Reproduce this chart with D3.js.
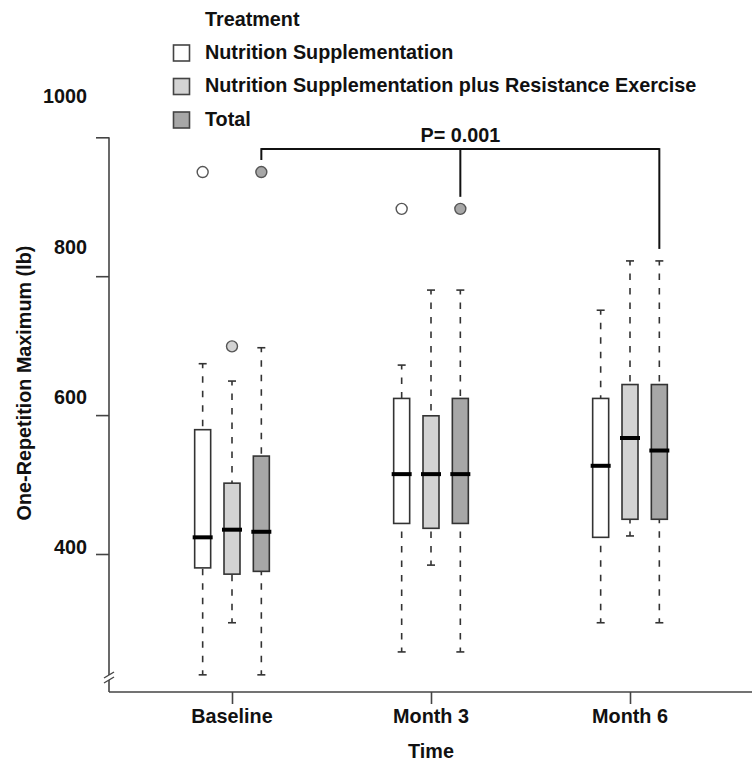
<!DOCTYPE html>
<html>
<head>
<meta charset="utf-8">
<script src="https://cdn.jsdelivr.net/npm/d3@7"></script>
<style>
  html, body { margin: 0; padding: 0; background: #ffffff; }
  svg text { font-family: "Liberation Sans", Arial, Helvetica, sans-serif; font-weight: bold; fill: #111; }
</style>
</head>
<body>
<svg id="chart" width="752" height="762"></svg>
<script>
// ---------- data ----------
const categories = ["Baseline", "Month 3", "Month 6"];
const seriesNames = ["Nutrition Supplementation", "Nutrition Supplementation plus Resistance Exercise", "Total"];
const seriesColors = ["#ffffff", "#d3d3d3", "#a7a7a7"];
// rows = categories, columns = series
const whiskerLow  = [[226, 301, 226], [259, 384, 259], [301, 426, 301]];
const q1          = [[380, 371, 375], [444, 437, 444], [424, 450, 450]];
const medians     = [[424, 435, 432], [515, 515, 515], [527, 567, 549]];
const q3          = [[579, 502, 541], [624, 599, 624], [624, 644, 644]];
const whiskerHigh = [[674, 649, 697], [672, 780, 780], [751, 822, 822]];
const outlierCategory = ["Baseline", "Baseline", "Baseline", "Month 3", "Month 3"];
const outlierSeries   = [0, 1, 2, 0, 2];
const outlierValue    = [950, 699, 950, 897, 897];
const yTicks = [400, 600, 800, 1000];
const yTickLabels = ["400", "600", "800", "1000"];
const sigLevel = 983;
const sigText = "P= 0.001";
const sigCategories = ["Baseline", "Month 3", "Month 6"];
const sigTargets = [950, 897, 822];
const yTitle = "One-Repetition Maximum (lb)";
const xTitle = "Time";
const legendTitle = "Treatment";

// ---------- layout ----------
const svg = d3.select("#chart");
const axisX = 109, axisBottom = 692, rightEdge = 752;
const fs = "19.8px";
const y = d3.scaleLinear().domain([400, 1000]).range([554, 137.3]);
const yLabel = d3.scaleLinear().domain([400, 1000]).range([547, 96.5]);
const x = d3.scalePoint().domain(categories).range([232, 630]);
const xo = d3.scaleBand().domain(d3.range(seriesNames.length)).range([-44, 44]);
const offset = i => xo(i) + xo.bandwidth() / 2;
const boxW = 16;
const axisColor = "#444";

// y axis ticks
const yAxis = d3.axisLeft(y).tickValues(yTicks).tickSize(13).tickFormat("");
const gy = svg.append("g").attr("transform", `translate(${axisX},0)`).call(yAxis);
gy.select(".domain").remove();
gy.selectAll(".tick line").attr("stroke", axisColor).attr("stroke-width", 1.6);

svg.append("line")
  .attr("x1", axisX).attr("x2", axisX)
  .attr("y1", y(1000)).attr("y2", axisBottom)
  .attr("stroke", axisColor).attr("stroke-width", 1.6);

// tick labels
svg.append("g").selectAll("text").data(yTicks).join("text")
  .attr("x", 87).attr("y", d => yLabel(d)).attr("dy", "0.35em")
  .attr("text-anchor", "end").style("font-size", fs)
  .text((d, i) => yTickLabels[i]);

// axis break
svg.append("rect").attr("x", axisX - 3).attr("y", 675).attr("width", 6).attr("height", 5).attr("fill", "#fff");
[[678, 672], [683, 677]].forEach(([a, b]) => {
  svg.append("line").attr("x1", axisX - 5).attr("y1", a).attr("x2", axisX + 5).attr("y2", b)
    .attr("stroke", axisColor).attr("stroke-width", 1.4);
});

// x axis
svg.append("line").attr("x1", axisX).attr("x2", rightEdge).attr("y1", axisBottom).attr("y2", axisBottom)
  .attr("stroke", axisColor).attr("stroke-width", 1.6);
const xAxis = d3.axisBottom(x).tickSize(12).tickFormat("");
const gx = svg.append("g").attr("transform", `translate(0,${axisBottom})`).call(xAxis);
gx.select(".domain").remove();
gx.selectAll(".tick line").attr("stroke", axisColor).attr("stroke-width", 1.6);
svg.append("g").selectAll("text").data(categories).join("text")
  .attr("x", d => x(d)).attr("y", 723).attr("text-anchor", "middle").style("font-size", fs)
  .text(d => d);

// titles
svg.append("text").attr("transform", "translate(31,383) rotate(-90)")
  .attr("text-anchor", "middle").style("font-size", fs).text(yTitle);
svg.append("text").attr("x", x("Month 3")).attr("y", 758)
  .attr("text-anchor", "middle").style("font-size", fs).text(xTitle);

// ---------- boxes ----------
const boxes = [];
categories.forEach((c, ci) => seriesNames.forEach((s, si) => {
  boxes.push({ c, si, lo: whiskerLow[ci][si], q1: q1[ci][si], med: medians[ci][si], q3: q3[ci][si], hi: whiskerHigh[ci][si] });
}));
const gb = svg.append("g");
const bx = d => x(d.c) + offset(d.si);
const dash = "6.5,8";

// whiskers (dashed)
gb.selectAll(".wl").data(boxes).join("line")
  .attr("x1", bx).attr("x2", bx).attr("y1", d => y(d.lo)).attr("y2", d => y(d.q1))
  .attr("stroke", "#333").attr("stroke-width", 1.6).attr("stroke-dasharray", dash).attr("stroke-dashoffset", 2);
gb.selectAll(".wh").data(boxes).join("line")
  .attr("x1", bx).attr("x2", bx).attr("y1", d => y(d.hi)).attr("y2", d => y(d.q3))
  .attr("stroke", "#333").attr("stroke-width", 1.6).attr("stroke-dasharray", dash).attr("stroke-dashoffset", 2);
// caps
gb.selectAll(".cl").data(boxes).join("line")
  .attr("x1", d => bx(d) - 4).attr("x2", d => bx(d) + 4).attr("y1", d => y(d.lo)).attr("y2", d => y(d.lo))
  .attr("stroke", "#333").attr("stroke-width", 1.6);
gb.selectAll(".ch").data(boxes).join("line")
  .attr("x1", d => bx(d) - 4).attr("x2", d => bx(d) + 4).attr("y1", d => y(d.hi)).attr("y2", d => y(d.hi))
  .attr("stroke", "#333").attr("stroke-width", 1.6);
// boxes
gb.selectAll(".bx").data(boxes).join("rect")
  .attr("x", d => bx(d) - boxW / 2).attr("width", boxW)
  .attr("y", d => y(d.q3)).attr("height", d => y(d.q1) - y(d.q3))
  .attr("fill", d => seriesColors[d.si]).attr("stroke", "#333").attr("stroke-width", 1.6);
// medians
gb.selectAll(".md").data(boxes).join("line")
  .attr("x1", d => bx(d) - boxW / 2 - 2).attr("x2", d => bx(d) + boxW / 2 + 2)
  .attr("y1", d => y(d.med)).attr("y2", d => y(d.med))
  .attr("stroke", "#000").attr("stroke-width", 4);

// outliers
svg.append("g").selectAll("circle").data(outlierValue).join("circle")
  .attr("cx", (v, i) => x(outlierCategory[i]) + offset(outlierSeries[i]))
  .attr("cy", v => y(v)).attr("r", 5.5)
  .attr("fill", (v, i) => seriesColors[outlierSeries[i]])
  .attr("stroke", "#555").attr("stroke-width", 1.4);

// significance bracket
const sx = sigCategories.map(c => x(c) + offset(2));
const sy = y(sigLevel);
svg.append("line").attr("x1", sx[0]).attr("x2", sx[2]).attr("y1", sy).attr("y2", sy)
  .attr("stroke", "#111").attr("stroke-width", 2);
sx.forEach((xx, i) => {
  svg.append("line").attr("x1", xx).attr("x2", xx).attr("y1", sy - 1).attr("y2", y(sigTargets[i]) - 12)
    .attr("stroke", "#111").attr("stroke-width", 2);
});
svg.append("text").attr("x", sx[1]).attr("y", sy - 7).attr("text-anchor", "middle")
  .style("font-size", fs).text(sigText);

// legend
svg.append("text").attr("x", 205).attr("y", 25.5).style("font-size", fs).text(legendTitle);
const lg = svg.append("g").selectAll("g").data(seriesNames).join("g")
  .attr("transform", (d, i) => `translate(0,${52 + i * 33.5})`);
lg.append("rect").attr("x", 173.5).attr("y", -7).attr("width", 16).attr("height", 16)
  .attr("fill", (d, i) => seriesColors[i]).attr("stroke", "#444").attr("stroke-width", 1.6);
lg.append("text").attr("x", 205).attr("y", 0).attr("dy", "0.35em").style("font-size", fs).text(d => d);
</script>
</body>
</html>
